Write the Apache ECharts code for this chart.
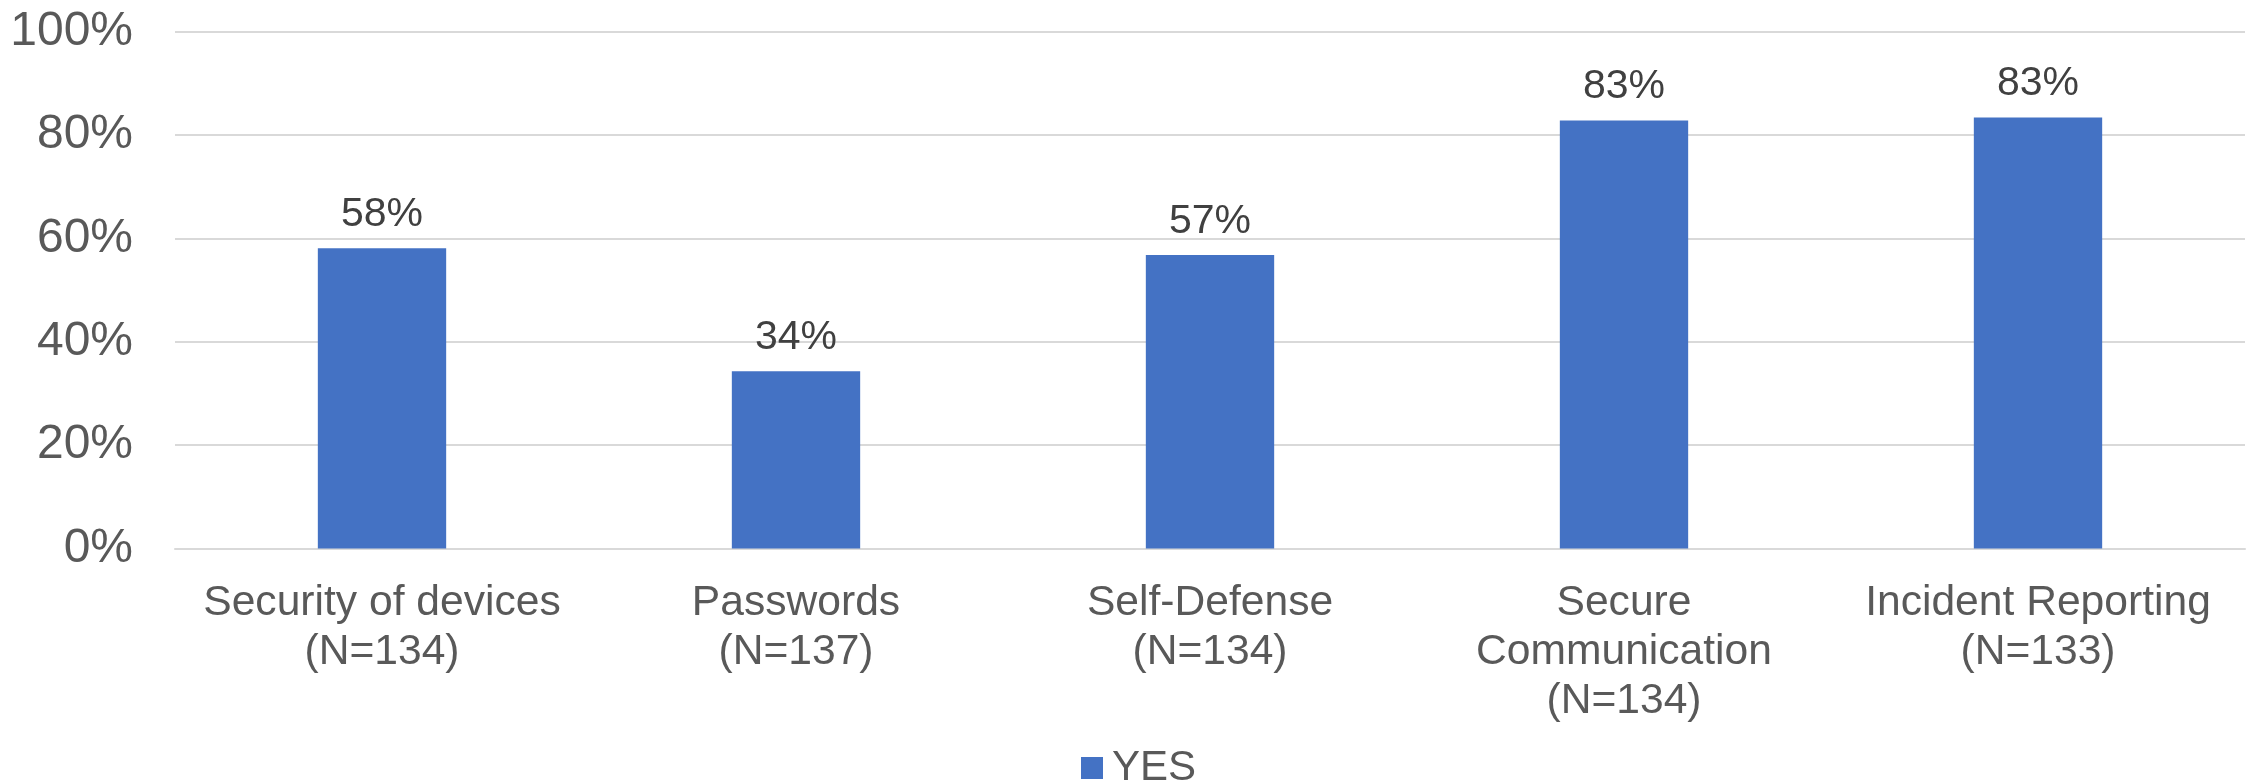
<!DOCTYPE html>
<html>
<head>
<meta charset="utf-8">
<script src="https://cdn.jsdelivr.net/npm/echarts@6/dist/echarts.min.js"></script>
<style>
  html, body { margin: 0; padding: 0; background: #fff; }
  #chart { width: 2252px; height: 783px; }
</style>
</head>
<body>
<div id="chart"></div>
<script>
// topics asked about, with sample size
var categories = [
  'Security of devices\n(N=134)',
  'Passwords\n(N=137)',
  'Self-Defense\n(N=134)',
  'Secure\nCommunication\n(N=134)',
  'Incident Reporting\n(N=133)'
];
// share answering YES
var yesValues = [0.581, 0.343, 0.568, 0.828, 0.834];
var seriesName = 'YES';

var chart = echarts.init(document.getElementById('chart'));

var option = {
  animation: false,
  textStyle: { fontFamily: '"Liberation Sans", Arial, sans-serif' },
  grid: { left: 175, right: 7, top: 31.6, bottom: 234.5 },
  legend: {
    data: [seriesName],
    top: 747,
    left: 1081,
    padding: 0,
    itemWidth: 22,
    itemHeight: 22,
    icon: 'rect',
    textStyle: { fontSize: 42, lineHeight: 42, color: '#595959', padding: [0, 0, 0, 4] }
  },
  xAxis: {
    type: 'category',
    data: categories,
    axisTick: { show: false },
    axisLine: { lineStyle: { color: '#d9d9d9', width: 2 } },
    axisLabel: {
      color: '#595959',
      fontSize: 42.6,
      lineHeight: 49,
      margin: 30,
      interval: 0
    }
  },
  yAxis: {
    type: 'value',
    min: 0,
    max: 1,
    interval: 0.2,
    axisLine: { show: false },
    axisTick: { show: false },
    splitLine: { lineStyle: { color: '#d9d9d9', width: 2 } },
    axisLabel: {
      color: '#595959',
      fontSize: 48,
      margin: 42,
      formatter: function (v) { return Math.round(v * 100) + '%'; }
    }
  },
  series: [
    {
      name: seriesName,
      type: 'bar',
      data: yesValues,
      barWidth: '31%',
      itemStyle: { color: '#4472C4' },
      label: {
        show: true,
        position: 'top',
        distance: 13,
        color: '#404040',
        fontSize: 41,
        formatter: function (p) { return Math.round(p.value * 100) + '%'; }
      }
    }
  ]
};

chart.setOption(option);
</script>
</body>
</html>
